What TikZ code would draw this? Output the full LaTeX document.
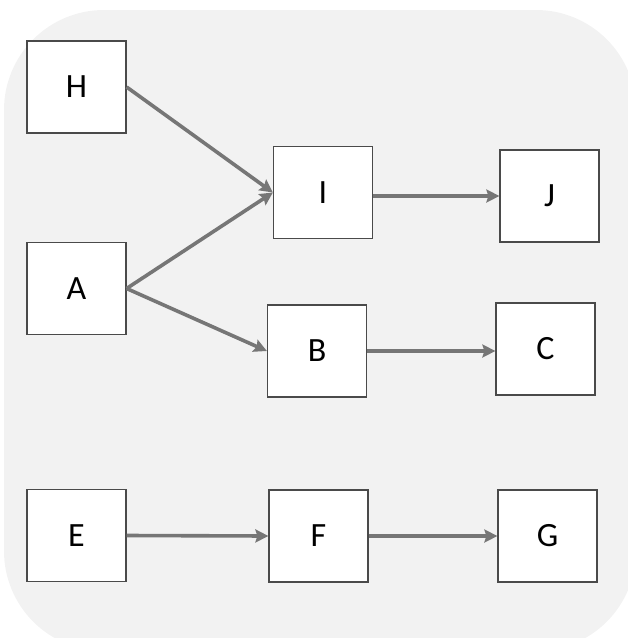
\documentclass[tikz,border=0pt]{standalone}
\usepackage{fontspec}
\setmainfont{Carlito}
\usetikzlibrary{arrows.meta}
\definecolor{panelgray}{HTML}{F2F2F2}
\definecolor{linkgray}{HTML}{767676}
\definecolor{boxline}{HTML}{4A4A4A}
\tikzset{
  blk/.style={draw=boxline,line width=1.2pt,fill=white,minimum width=99pt,minimum height=92pt,inner sep=0pt,font=\fontsize{34}{40}\selectfont},
  link/.style={draw=linkgray,line width=3.6pt,-{Stealth[length=13pt,width=13pt,inset=2pt]}}
}
\begin{document}
\begin{tikzpicture}[x=1pt,y=-1pt]
  \useasboundingbox (0,0) rectangle (628,638);
  \begin{scope}
    \clip (0,0) rectangle (628,638);
    \fill[panelgray,rounded corners=100pt] (4,10) rectangle (636,651);
  \end{scope}
  \node[blk] (H) at (76.5,87) {H};
  \node[blk] (A) at (76.5,288.5) {A};
  \node[blk] (I) at (323,192.5) {I};
  \node[blk] (J) at (549.5,196) {J};
  \node[blk] (B) at (317,351) {B};
  \node[blk] (C) at (545.5,349) {C};
  \node[blk] (E) at (76.5,535.5) {E};
  \node[blk] (F) at (318.5,536) {F};
  \node[blk] (G) at (547.5,536) {G};
  \draw[link] (H.east) -- (I.west);
  \draw[link] (A.east) -- (I.west);
  \draw[link] (A.east) -- (B.west);
  \draw[link] (I.east |- J.west) -- (J.west);
  \draw[link] (B.east) -- (C.west |- B.east);
  \draw[link] (E.east) -- (F.west);
  \draw[link] (F.east) -- (G.west);
\end{tikzpicture}
\end{document}
